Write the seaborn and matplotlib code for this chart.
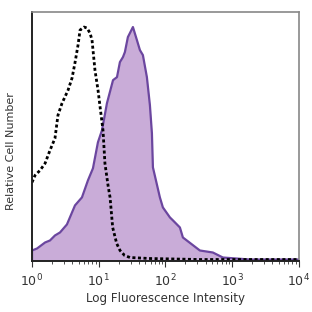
#!/usr/bin/env python3
"""
Flow cytometry histogram: stained sample vs isotype control
"""

import numpy as np
import pandas as pd
import matplotlib
matplotlib.use("Agg")
import matplotlib.pyplot as plt
from matplotlib.ticker import LogLocator, NullFormatter
import seaborn as sns

# isotype control (dashed), intensity vs relative count
control_x = [1.0, 1.11, 1.32, 1.57, 1.86, 2.21, 2.45, 2.82, 3.47, 3.98, 4.4, 4.9,
             5.25, 6.03, 6.67, 7.41, 7.94, 8.79, 9.77, 10.5, 11.6, 12.4, 13.8,
             14.8, 16.2, 18.6, 20.9, 24.5, 29.5, 58.9, 331, 10000]
control_y = [78, 85, 90, 97, 110, 122, 145, 157, 170, 182, 197, 215,
             230, 233, 232, 227, 220, 190, 170, 153, 130, 97, 75,
             63, 33, 17, 10, 5, 3, 2, 1, 1]

# stained sample (filled purple)
stained_x = [1.0, 1.0, 1.19, 1.57, 1.86, 2.21, 2.63, 3.34, 4.41, 5.61, 6.90, 8.20,
             9.74, 11.2, 13.3, 16.4, 18.8, 20.8, 23.1, 24.7, 27.4, 29.4, 32.6,
             37.4, 41.5, 46.0, 52.8, 58.6, 62.8, 65.0, 82.7, 91.7, 117, 130,
             165, 183, 329, 515, 727, 1845, 10000]
stained_y = [0, 10, 12, 18, 20, 25, 28, 36, 55, 63, 80, 92,
             118, 130, 157, 180, 183, 198, 203, 208, 223, 227, 233,
             220, 210, 205, 183, 155, 127, 93, 63, 53, 43, 40,
             33, 23, 10, 8, 3, 1, 1]

control = pd.DataFrame({"intensity": control_x, "count": control_y})
stained = pd.DataFrame({"intensity": stained_x, "count": stained_y})

fill_color = "#c9acd8"
line_color = "#6b469f"
text_color = "#333333"

fig = plt.figure(figsize=(3.12, 3.12), dpi=100)
ax = fig.add_axes([0.1026, 0.165, 0.855, 0.7965])

ax.fill_between(stained["intensity"], stained["count"], 0, color=fill_color, lw=0)
sns.lineplot(data=stained, x="intensity", y="count", ax=ax, color=line_color,
             lw=1.6, sort=False, estimator=None)
sns.lineplot(data=control, x="intensity", y="count", ax=ax, color="black",
             lw=2.0, sort=False, estimator=None)
ax.lines[-1].set_dashes([1.1, 0.9])

ax.set_xscale("log")
ax.set_xlim(1, 10000)
ax.set_ylim(0, 248)

ax.xaxis.set_major_locator(LogLocator(base=10, numticks=10))
ax.xaxis.set_minor_locator(LogLocator(base=10, subs=np.arange(2, 10), numticks=10))
ax.xaxis.set_minor_formatter(NullFormatter())
ax.tick_params(axis="x", which="major", length=4, width=0.8, colors=text_color,
               labelsize=9, labelcolor=text_color, pad=5)
ax.tick_params(axis="x", which="minor", length=2.5, width=0.6, colors=text_color)
ax.set_yticks([])

for side in ["left", "bottom"]:
    ax.spines[side].set_color("#222222")
    ax.spines[side].set_linewidth(1.4)
for side in ["top", "right"]:
    ax.spines[side].set_color("#888888")
    ax.spines[side].set_linewidth(1.2)

ax.set_xlabel("Log Fluorescence Intensity", fontsize=8.6, color=text_color, labelpad=2)
ax.set_ylabel("Relative Cell Number", fontsize=8.0, color=text_color)
ax.yaxis.set_label_coords(-0.06, 0.44)

fig.savefig("out.png", dpi=100)
